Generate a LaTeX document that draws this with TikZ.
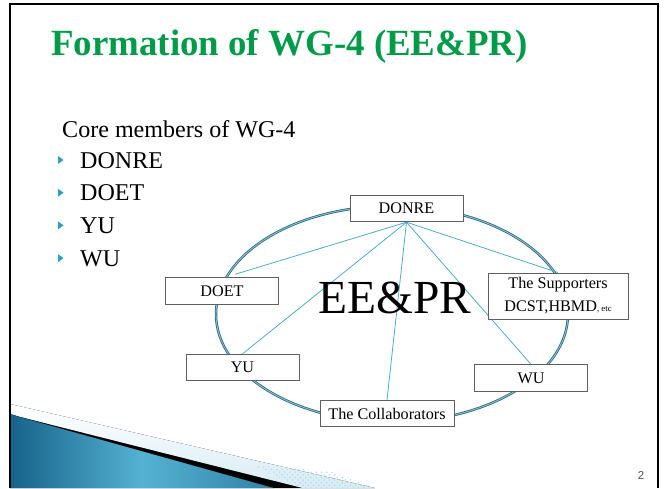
\documentclass[tikz,border=0pt]{standalone}
\usepackage{fontspec}
\setmainfont{Liberation Serif}
\newfontfamily\pagefont{Liberation Sans}
\usepackage{tikz}
\usetikzlibrary{
	positioning, calc, backgrounds, patterns
}
\definecolor{wggreen}   {RGB}{  0, 155,  72}
\definecolor{wgteal}    {RGB}{ 31, 107, 133}
\definecolor{wgcyan}    {RGB}{ 75, 172, 198}
\definecolor{wgbullet}  {RGB}{ 40, 160, 200}
\definecolor{wgedge}    {RGB}{ 95,  95,  95}
\definecolor{wgdeep}    {RGB}{ 22,  98, 138}
\definecolor{wglight}   {RGB}{ 85, 178, 210}
\definecolor{wgpale}    {RGB}{215, 236, 244}

\begin{document}
\begin{tikzpicture}[x=0.02cm, y=-0.02cm,
		box/.style={draw=wgedge, fill=white, line width=0.5pt, inner sep=0pt,
			minimum width=2.26cm, minimum height=0.53cm, font=\fontsize{9.2}{13}\selectfont},
		link/.style={wgcyan, line width=0.45pt}]
				\useasboundingbox (0,0) rectangle (666,488);
				% swoosh at the bottom left
				\fill[top color=white, bottom color=wgpale] (10,404)--(375,488)--(302,488)--(20,417)--(10,414)--cycle;
				\fill[pattern=crosshatch dots, pattern color=wglight!45] (255,466)--(330,471)--(375,488)--(302,488)--cycle;
				\fill[left color=wgdeep, right color=wgdeep!60!wglight, middle color=wglight] (10,414)--(20,417)--(274,488)--(10,488)--cycle;
				\fill (20,417)--(302,488)--(274,488)--cycle;
				% title and list
				\node[anchor=base west, wggreen, font=\fontsize{21}{24}\selectfont\bfseries] (title) at (45,55) {Formation of WG-4 (EE\&PR)};
				\node[anchor=base west, font=\fontsize{13.7}{16}\selectfont] (core) at (56,137) {Core members of WG-4};
				\foreach \m [count=\i, evaluate=\i as \yb using 135.3+32.7*\i] in {DONRE,DOET,YU,WU}{
					\fill[wgbullet] (58,\yb-12)--(63.5,\yb-8)--(58,\yb-4)--cycle;
					\node[anchor=base west, font=\fontsize{13.7}{16}\selectfont] (item\i) at (74,\yb) {\m};
				}
				% diagram
				\node[anchor=base, font=\fontsize{27}{30}\selectfont] (eepr) at (395,313) {EE\&PR};
				\node[box] (donre) at (406.5,208.5) {DONRE};
				\node[box] (doet) at (222,291) {DOET};
				\node[box] (yu) at (242.5,367.5) {YU};
				\node[box] (wu) at (531,378) {WU};
				\node[box, minimum width=2.68cm] (collab) at (387,413.5) {The Collaborators};
				\node[box, minimum width=2.8cm, minimum height=0.92cm, align=center] (supp) at (558,296)
					{The Supporters\\DCST,HBMD{\fontsize{5}{6}\selectfont, etc}};
				\begin{scope}[on background layer]
					\draw[wgteal, double=wgteal!45, double distance=0.5pt, line width=0.45pt] (392,314) ellipse [x radius=176, y radius=108];
					\foreach \t in {yu,collab,wu,supp}{\draw[link] (donre.south)--(\t.north);}
					\draw[link] (donre.south)--($(doet.north)+(13,-3)$);
				\end{scope}
				\node[font=\pagefont\fontsize{6.5}{8}\selectfont, wgedge!80!black] (pgno) at (641,476) {2};
				\draw[line width=1.4pt] (10,488)--(10,4)--(658,4)--(658,488);
			\end{tikzpicture}
\end{document}
